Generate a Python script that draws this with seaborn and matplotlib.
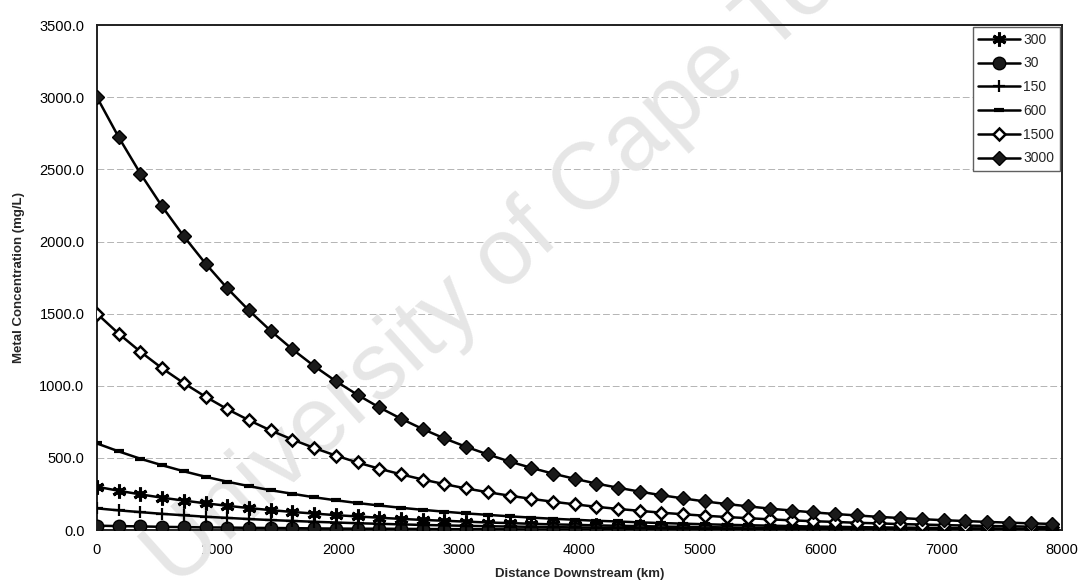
import matplotlib
matplotlib.use("Agg")
import matplotlib.pyplot as plt
import seaborn as sns
import pandas as pd

# Distance downstream (km)
distance_km = [180 * i for i in range(45)]

# Metal concentration (mg/L) for each initial concentration
conc_300 = [300, 272, 247, 224, 204, 185, 168, 152, 138, 125, 114, 103, 94, 85, 77,
            70, 64, 58, 52, 48, 43, 39, 36, 32, 29, 27, 24, 22, 20, 18, 16, 15, 13,
            12, 11, 10, 9, 8, 8, 7, 6, 6, 5, 5, 4]
conc_30 = [30, 27, 25, 22, 20, 18, 17, 15, 14, 13, 11, 10, 9, 9, 8, 7, 6, 6, 5, 5,
           4, 4, 4, 3, 3, 3, 2, 2, 2, 2, 2, 1, 1, 1, 1, 1, 1, 1, 1, 1, 1, 1, 1, 0, 0]
conc_150 = [150, 136, 124, 112, 102, 92, 84, 76, 69, 63, 57, 52, 47, 43, 39, 35, 32,
            29, 26, 24, 22, 20, 18, 16, 15, 13, 12, 11, 10, 9, 8, 7, 7, 6, 6, 5, 5,
            4, 4, 3, 3, 3, 3, 2, 2]
conc_600 = [600, 545, 494, 449, 407, 369, 335, 304, 276, 251, 227, 206, 187, 170, 154,
            140, 127, 115, 105, 95, 86, 78, 71, 64, 59, 53, 48, 44, 40, 36, 33, 30,
            27, 24, 22, 20, 18, 17, 15, 14, 12, 11, 10, 9, 8]
conc_1500 = [1500, 1361, 1236, 1121, 1018, 924, 838, 761, 690, 627, 569, 516, 468, 425,
             386, 350, 318, 288, 262, 238, 216, 196, 178, 161, 146, 133, 120, 109, 99,
             90, 82, 74, 67, 61, 56, 50, 46, 41, 38, 34, 31, 28, 26, 23, 21]
conc_3000 = [3000, 2723, 2471, 2243, 2036, 1847, 1676, 1522, 1381, 1253, 1137, 1032,
             937, 850, 772, 700, 635, 577, 524, 475, 431, 391, 355, 322, 293, 266, 241,
             219, 198, 180, 164, 148, 135, 122, 111, 101, 91, 83, 75, 68, 62, 56, 51,
             46, 42]

series_labels = ["300", "30", "150", "600", "1500", "3000"]
series_values = [conc_300, conc_30, conc_150, conc_600, conc_1500, conc_3000]

y_ticks = [0, 500, 1000, 1500, 2000, 2500, 3000, 3500]
x_ticks = [0, 1000, 2000, 3000, 4000, 5000, 6000, 7000, 8000]

sns.set_style("white")
plt.rcParams["font.family"] = ["Liberation Sans", "DejaVu Sans"]

# marker styling per series
styles = {
    "300": dict(marker=(6, 2, 0), markersize=10, markeredgewidth=2.2,
                markerfacecolor="black", markeredgecolor="black"),
    "30": dict(marker="o", markersize=9, markeredgewidth=1.0,
               markerfacecolor="#1a1a1a", markeredgecolor="black"),
    "150": dict(marker="+", markersize=8, markeredgewidth=1.6,
                markerfacecolor="black", markeredgecolor="black"),
    "600": dict(marker="_", markersize=7, markeredgewidth=3.0,
                markerfacecolor="black", markeredgecolor="black"),
    "1500": dict(marker="D", markersize=6.5, markeredgewidth=1.8,
                 markerfacecolor="white", markeredgecolor="black"),
    "3000": dict(marker="D", markersize=7, markeredgewidth=1.0,
                 markerfacecolor="#1a1a1a", markeredgecolor="black"),
}

fig = plt.figure(figsize=(10.81, 5.83), dpi=100)
ax = fig.add_axes([0.0897, 0.0909, 0.8927, 0.866])
ax.set_facecolor("white")

for label, values in zip(series_labels, series_values):
    df = pd.DataFrame({"distance": distance_km, "conc": values})
    sns.lineplot(data=df, x="distance", y="conc", ax=ax, color="black",
                 linewidth=1.8, label=label, zorder=3, **styles[label])

ax.set_xlim(0, 8000)
ax.set_ylim(0, 3500)
ax.set_xticks(x_ticks)
ax.set_yticks(y_ticks)
ax.set_xticklabels([str(v) for v in x_ticks], fontsize=10.5)
ax.set_yticklabels([f"{v:.1f}" for v in y_ticks], fontsize=10.5)
ax.tick_params(axis="both", length=0, colors="black")
ax.tick_params(axis="x", pad=9)
ax.tick_params(axis="y", pad=9)

ax.yaxis.grid(True, color="#b4b4b4", linewidth=0.7, linestyle=(0, (7, 3)))
ax.xaxis.grid(False)
ax.set_axisbelow(True)

for side in ["left", "right", "top", "bottom"]:
    ax.spines[side].set_visible(True)
    ax.spines[side].set_color("#202020")
    ax.spines[side].set_linewidth(1.4)

ax.set_xlabel("Distance Downstream (km)", fontsize=9.5, fontweight="bold", labelpad=8)
ax.set_ylabel("Metal Concentration (mg/L)", fontsize=9.5, fontweight="bold", labelpad=10)

leg = ax.legend(loc="upper right", fontsize=10, frameon=True, fancybox=False,
                framealpha=1, edgecolor="#606060", borderaxespad=0.15,
                handlelength=3.0, handletextpad=0.25, labelspacing=0.7,
                borderpad=0.4)
leg.get_frame().set_linewidth(1.0)
leg.set_zorder(5)

# institutional watermark across the sheet
ax.text(0.497, 0.605, "University of Cape Town", transform=fig.transFigure,
        rotation=42, fontsize=68, color="#e6e6e6", ha="center", va="center",
        rotation_mode="anchor", zorder=1, clip_on=False)

fig.savefig("out.png", dpi=100)
